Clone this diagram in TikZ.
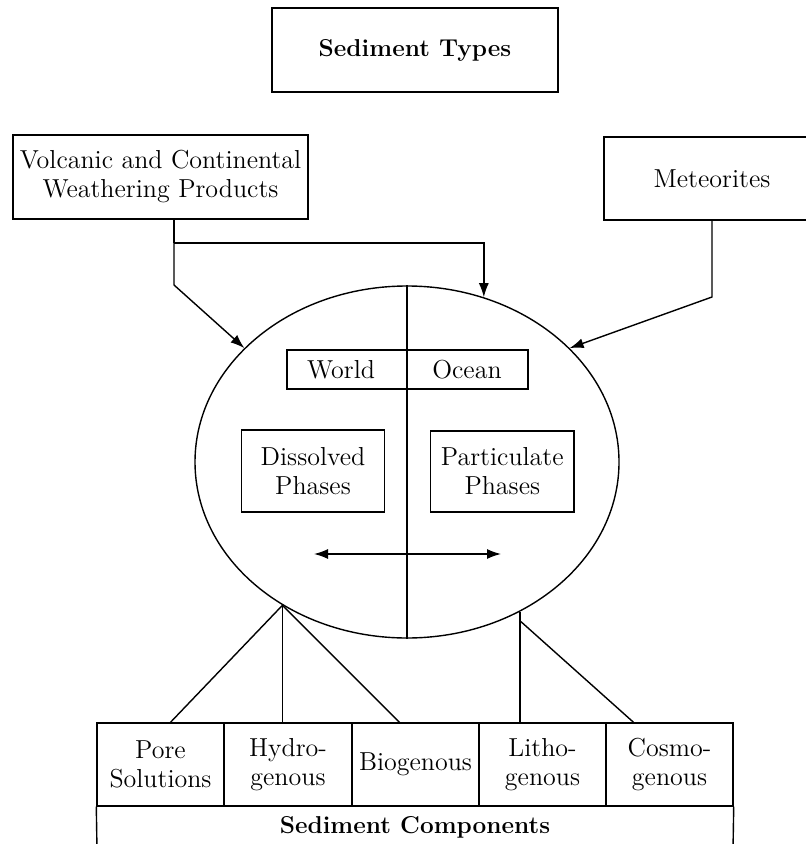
\documentclass[tikz,border=0pt]{standalone}
\usepackage{tikz}
\usetikzlibrary{arrows.meta,shapes.geometric}
\tikzset{>={Latex[width=5pt,length=7pt]}}
\tikzset{
  box/.style={draw=black, rectangle, inner sep=0pt},
  cell/.style={box, minimum width=63.5pt, minimum height=41.5pt},
  heading/.style={font=\fontsize{12.2}{14}\selectfont\bfseries},
}

\begin{document}
\begin{tikzpicture}[x=0.5pt, y=-0.5pt, line width=0.7pt,
    every node/.style={font=\fontsize{13}{14.5}\selectfont, align=center}]
	\useasboundingbox (0,0) rectangle (806,844);
	% sources
	\node[box, heading, minimum width=143pt, minimum height=42pt] (types) at (415,50) {Sediment Types};
	\node[box, minimum width=147.5pt, minimum height=42pt] (volc) at (160.5,177) {Volcanic and Continental\\Weathering Products};
	\node[box, minimum width=108pt, minimum height=41.5pt] (meteor) at (712,178.5) {Meteorites};
	% ocean
	\node[draw=black, ellipse, inner sep=0pt, minimum width=212pt, minimum height=176pt] (ocean) at (407,462) {};
	\draw (ocean.north) -- (ocean.south);
	\node[box, minimum width=120.5pt, minimum height=19.5pt] (wobox) at (407.5,369.5) {};
	\node (world) at (341,370) {World};
	\node (oceantxt) at (467,370) {Ocean};
	\node[box, minimum width=71.3pt, minimum height=41pt] (dissolved) at (313,471) {Dissolved\\Phases};
	\node[box, minimum width=71.6pt, minimum height=40.5pt] (particulate) at (502.3,471.3) {Particulate\\Phases};
	\coordinate (exl) at (314,554);
	\coordinate (exr) at (501,554);
	\draw[<->] (exl) -- (exr);
	% components
	\node[cell] (pore) at (160.5,764.5) {Pore\\Solutions};
	\node[cell] (hydro) at (288,764.5) {Hydro-\\genous};
	\node[cell] (bio) at (415.5,764.5) {Biogenous};
	\node[cell] (litho) at (542.5,764.5) {Litho-\\genous};
	\node[cell] (cosmo) at (669.5,764.5) {Cosmo-\\genous};
	\node[heading] (comp) at (415,827) {Sediment Components};
	\coordinate (cbl) at (97,850);
	\coordinate (cbr) at (733,850);
	\draw (cbl) -- (pore.south west);
	\draw (cbr) -- (cosmo.south east);
	% connectors
	\coordinate (vjoin) at (174,243);
	\coordinate (vbend) at (174,285);
	\coordinate (mbend) at (712,297);
	\draw (volc.south -| vjoin) -- (vjoin);
	\draw[->] (vjoin) -- (vbend) -- (ocean.145);
	\draw[->] (vjoin) -| (ocean.65.5);
	\draw[->] (meteor.south) -- (mbend) -- (ocean.35.2);
	\coordinate (lsplit) at (ocean.229.7);
	\coordinate (rsplit) at (ocean.307.4);
	\coordinate (rknee) at (521,621.7);
	\draw ([xshift=5pt]pore.north) -- (lsplit) -- ([xshift=-8pt]bio.north);
	\draw (lsplit) -- (lsplit |- hydro.north);
	\draw (rsplit) -- (rsplit |- litho.north);
	\draw (rknee) -- ([xshift=-18pt]cosmo.north);
\end{tikzpicture}
\end{document}
